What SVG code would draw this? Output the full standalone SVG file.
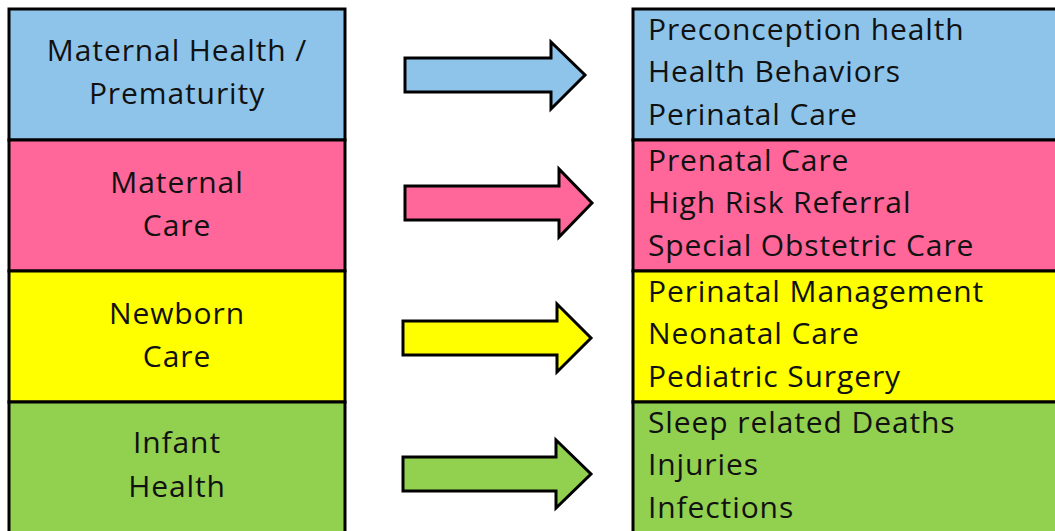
<svg xmlns="http://www.w3.org/2000/svg" width="1055" height="531" viewBox="0 0 1055 531">
<style>
.box{stroke:#000;stroke-width:3}
.arr{stroke:#000;stroke-width:3;stroke-linejoin:miter}
.blue{fill:#8EC4EA}.pink{fill:#FF6699}.yellow{fill:#FFFF00}.green{fill:#92D050}
text{font-family:"Open Sans","Lato",sans-serif;font-size:30px;letter-spacing:0.9px;fill:#111}
.c{text-anchor:middle}
</style>
<rect width="1055" height="531" fill="#fff"/>
<g id="left-maternal-health">
<rect class="box blue" x="9" y="9" width="336" height="131"/>
<text class="c" x="177" y="61">Maternal Health /</text>
<text class="c" x="177" y="104">Prematurity</text>
</g>
<g id="left-maternal-care">
<rect class="box pink" x="9" y="140" width="336" height="131"/>
<text class="c" x="177" y="193">Maternal</text>
<text class="c" x="177" y="236">Care</text>
</g>
<g id="left-newborn-care">
<rect class="box yellow" x="9" y="271" width="336" height="131"/>
<text class="c" x="177" y="324">Newborn</text>
<text class="c" x="177" y="367">Care</text>
</g>
<g id="left-infant-health">
<rect class="box green" x="9" y="402" width="336" height="135"/>
<text class="c" x="177" y="453">Infant</text>
<text class="c" x="177" y="497">Health</text>
</g>
<g id="right-maternal-health">
<rect class="box blue" x="633" y="9" width="430" height="131"/>
<text x="648" y="40">Preconception health</text>
<text x="648" y="82">Health Behaviors</text>
<text x="648" y="125">Perinatal Care</text>
</g>
<g id="right-maternal-care">
<rect class="box pink" x="633" y="140" width="430" height="131"/>
<text x="648" y="171">Prenatal Care</text>
<text x="648" y="213">High Risk Referral</text>
<text x="648" y="256">Special Obstetric Care</text>
</g>
<g id="right-newborn-care">
<rect class="box yellow" x="633" y="271" width="430" height="131"/>
<text x="648" y="302">Perinatal Management</text>
<text x="648" y="344">Neonatal Care</text>
<text x="648" y="387">Pediatric Surgery</text>
</g>
<g id="right-infant-health">
<rect class="box green" x="633" y="402" width="430" height="135"/>
<text x="648" y="433">Sleep related Deaths</text>
<text x="648" y="475">Injuries</text>
<text x="648" y="518">Infections</text>
</g>
<g id="connectors">
<polygon class="arr blue" points="405,58 551,58 551,42 585,75 551,109 551,92 405,92"/>
<polygon class="arr pink" points="405,186 559,186 559,169 592,203 559,237 559,220 405,220"/>
<polygon class="arr yellow" points="403,321 557,321 557,304 591,338 557,372 557,355 403,355"/>
<polygon class="arr green" points="403,457 556,457 556,440 591,474 556,508 556,491 403,491"/>
</g>
</svg>
